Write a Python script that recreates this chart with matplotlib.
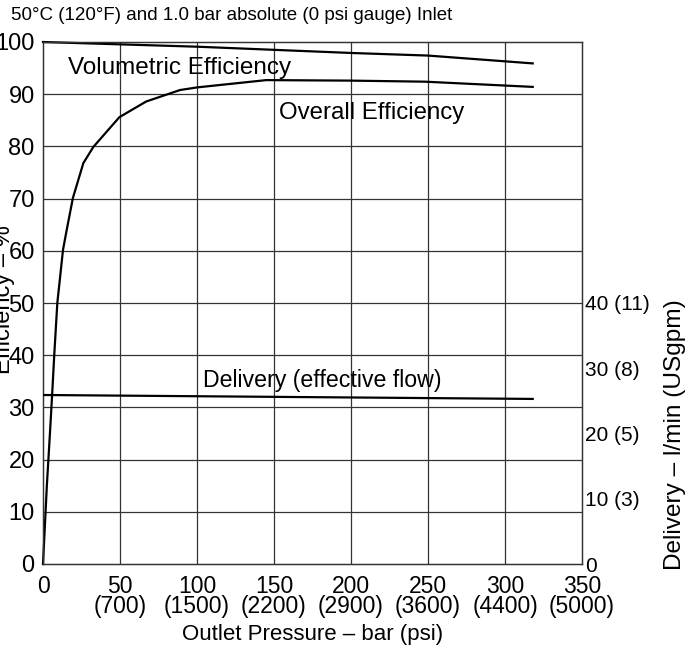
import numpy as np
import matplotlib
matplotlib.use("Agg")
import matplotlib.pyplot as plt

plt.rcParams['font.family'] = ['Liberation Sans', 'DejaVu Sans']

# data
pressure_ticks = [0, 50, 100, 150, 200, 250, 300, 350]
pressure_labels = ['0', '50\n(700)', '100\n(1500)', '150\n(2200)', '200\n(2900)',
                   '250\n(3600)', '300\n(4400)', '350\n(5000)']
eff_ticks = [0, 10, 20, 30, 40, 50, 60, 70, 80, 90, 100]
flow_ticks = [0, 10, 20, 30, 40]
flow_labels = ['0', '10 (3)', '20 (5)', '30 (8)', '40 (11)']

vol_p = [0, 100, 200, 250, 318]
vol_eff = [100, 99.1, 97.9, 97.4, 95.9]

ovr_p = [0, 2.5, 4.5, 6, 7.3, 9.3, 13, 15.4, 19.4, 26.2, 32.7, 49.6, 67, 89, 100, 145, 200, 248, 318]
ovr_eff = [0, 15, 25, 32.8, 40.0, 50.0, 60.2, 64.0, 70.1, 76.8, 79.9, 85.6, 88.6, 90.8, 91.3, 92.7, 92.6, 92.4, 91.4]

del_p = [0, 318]
del_flow = [25.9, 25.3]   # l/min

fig = plt.figure(figsize=(6.99, 6.51), dpi=100)
ax = fig.add_axes([43/699, 87/651, 539/699, 522/651])
ax2 = ax.twinx()

gc = '#333333'
ax.set_xlim(0, 350)
ax.set_ylim(0, 100)
ax2.set_ylim(0, 80)

for v in pressure_ticks[1:-1]:
    ax.axvline(v, color=gc, lw=0.9, zorder=1)
for h in eff_ticks[1:-1]:
    ax.axhline(h, color=gc, lw=0.9, zorder=1)

ax.plot(vol_p, vol_eff, color='black', lw=1.6, zorder=3, clip_on=False)
ax.plot(ovr_p, ovr_eff, color='black', lw=1.6, zorder=3, clip_on=False)
ax2.plot(del_p, del_flow, color='black', lw=1.6, zorder=3)

ax.set_xticks(pressure_ticks)
ax.set_xticklabels(pressure_labels, fontsize=16.5, linespacing=0.85)
ax.set_yticks(eff_ticks)
ax.set_yticklabels([str(t) for t in eff_ticks], fontsize=17)
ax.tick_params(axis='y', length=0, pad=6)
ax.tick_params(axis='x', length=0, pad=8)

ax2.set_yticks(flow_ticks)
ax2.set_yticklabels(flow_labels, fontsize=15)
ax2.tick_params(axis='y', length=0, pad=2.5)

for a in (ax, ax2):
    for s in a.spines.values():
        s.set_color(gc)
        s.set_linewidth(0.9)

ax.set_xlabel('Outlet Pressure – bar (psi)', fontsize=16, labelpad=4)

ax.text(16, 95.0, 'Volumetric Efficiency', fontsize=17.5, va='center', ha='left')
ax.text(153, 86.4, 'Overall Efficiency', fontsize=17.3, va='center', ha='left')
ax.text(104, 35.1, 'Delivery (effective flow)', fontsize=16.7, va='center', ha='left')

fig.text(11/699, 1 - 16/651, '50°C (120°F) and 1.0 bar absolute (0 psi gauge) Inlet',
         fontsize=13.5, ha='left', va='center')
fig.text(4/699, 1 - 300/651, 'Efficiency – %', fontsize=17, rotation=90,
         ha='center', va='center')
fig.text(675/699, 1 - 435/651, 'Delivery – l/min (USgpm)', fontsize=17.6, rotation=90,
         ha='center', va='center')

fig.savefig('out.png', dpi=100)
